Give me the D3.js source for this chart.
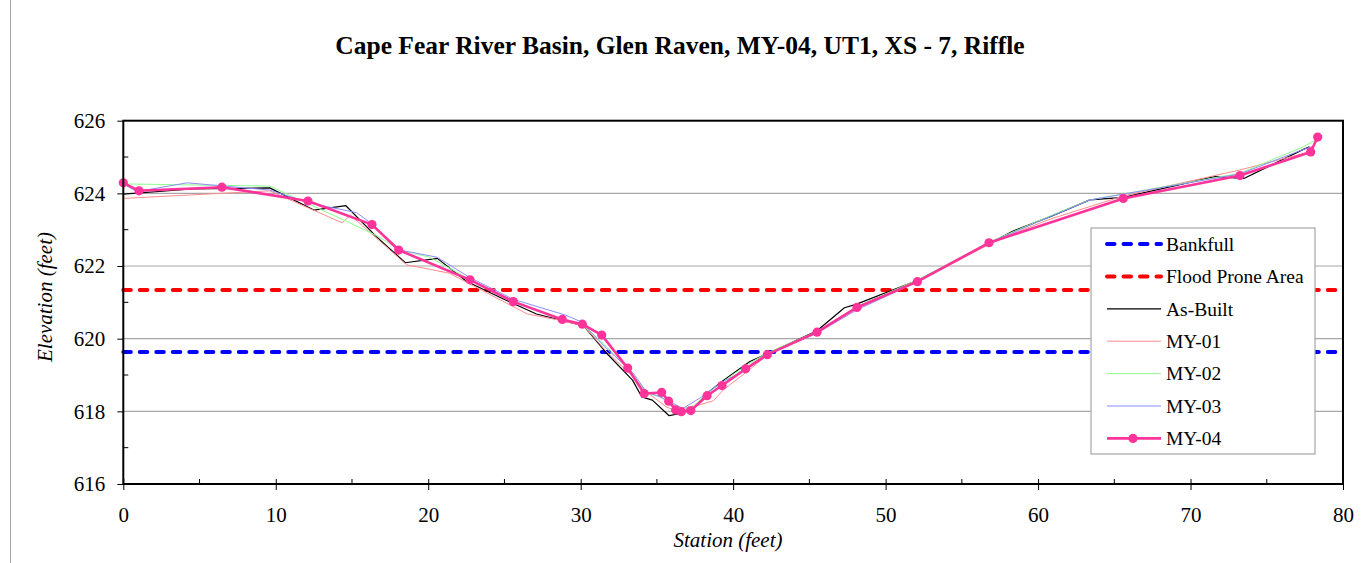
<!DOCTYPE html>
<html>
<head>
<meta charset="utf-8">
<script src="https://cdn.jsdelivr.net/npm/d3@7"></script>
<style>
  html, body { margin: 0; padding: 0; background: #fff; }
  svg { display: block; font-family: "Liberation Serif", "Times New Roman", serif; }
</style>
</head>
<body>
<svg id="chart" width="1365" height="563"></svg>
<script>
// Cross-section survey, XS-7 riffle: [station (ft), elevation (ft)]
const asBuilt = [[0,623.98],[4.5,624.12],[9.6,624.15],[12.5,623.54],[14.6,623.66],[16.6,622.81],[18.5,622.09],[20.6,622.21],[22.5,621.58],[25.5,620.98],[27.1,620.68],[30.2,620.35],[31.7,619.6],[33.4,618.86],[34.0,618.4],[34.7,618.31],[35.8,617.88],[36.3,617.92],[37.3,618.05],[38.5,618.57],[39.4,618.86],[41.1,619.37],[42.2,619.58],[45.5,620.22],[47.3,620.85],[48.1,620.95],[52.1,621.61],[58.4,622.97],[60.8,623.36],[63.4,623.82],[65.6,623.89],[71.6,624.46],[73.5,624.41],[77.4,625.21],[77.8,625.28]];
const my01 = [[0,623.86],[9.6,624.07],[14.35,623.19],[14.9,623.4],[18.6,622.03],[20.1,621.91],[21.4,621.8],[23.8,621.27],[26.5,620.68],[28.6,620.51],[30.2,620.35],[31.7,619.64],[33.45,618.95],[34.3,618.54],[35.6,618.13],[36.3,617.99],[37.4,618.13],[38.7,618.29],[39.35,618.59],[40.9,619.09],[42.4,619.6],[45.5,620.16],[48.1,620.84],[52.1,621.57],[56.8,622.6],[58.4,622.9],[60.8,623.29],[65.6,623.93],[73.2,624.64],[77.6,625.12],[77.8,625.21]];
const my02 = [[0,624.26],[9.6,624.2],[14.9,623.18],[16.6,622.84],[18.15,622.44],[20.1,622.24],[22.7,621.64],[25.6,621.04],[28.8,620.52],[30.0,620.42],[31.7,619.78],[33.45,619.0],[34.3,618.5],[35.2,618.4],[36.5,618.08],[37.4,618.15],[38.7,618.63],[40.9,619.28],[42.2,619.6],[45.5,620.2],[48.1,620.88],[52.3,621.66],[56.8,622.66],[60.8,623.38],[63.4,623.82],[73.2,624.55],[77.4,625.28],[78.3,625.49]];
const my03 = [[0,624.26],[0.9,624.05],[4.2,624.29],[9.6,624.09],[12.25,623.73],[15.3,623.47],[16.4,623.13],[18.15,622.44],[20.6,622.24],[22.7,621.69],[25.6,621.08],[29.0,620.65],[30.0,620.47],[31.7,619.73],[33.45,619.05],[34.3,618.54],[35.2,618.4],[36.7,618.08],[37.8,618.36],[39.35,618.82],[40.9,619.16],[42.2,619.55],[45.5,620.15],[48.1,620.79],[52.1,621.57],[56.8,622.64],[60.8,623.36],[63.4,623.82],[73.2,624.53],[77.6,625.24],[78.1,625.3]];
const my04 = [[0,624.29],[1.03,624.07],[6.47,624.17],[12.11,623.79],[16.31,623.14],[18.06,622.44],[22.74,621.62],[25.58,621.02],[28.79,620.53],[30.11,620.4],[31.38,620.1],[33.08,619.19],[34.17,618.49],[35.31,618.52],[35.77,618.28],[36.23,618.04],[36.6,617.99],[37.22,618.02],[38.29,618.43],[39.27,618.71],[40.82,619.17],[42.24,619.56],[45.5,620.18],[48.12,620.86],[52.08,621.57],[56.78,622.64],[65.59,623.86],[73.24,624.49],[77.88,625.14],[78.34,625.55]];

// Reference water-surface elevations (ft)
const bankfull = 619.63;
const floodProne = 621.34;

// Axis ticks
const xTicks = [0,10,20,30,40,50,60,70,80];
const xMinorTicks = [5,15,25,35,45,55,65,75];
const yTicks = [616,618,620,622,624,626];
const yMinorTicks = [617,619,621,623,625];

const titleText = "Cape Fear River Basin, Glen Raven, MY-04, UT1, XS - 7, Riffle";

const series = [
  { name: "As-Built", data: asBuilt, color: "#000000", width: 1.2 },
  { name: "MY-01", data: my01, color: "#FF8C8C", width: 1 },
  { name: "MY-02", data: my02, color: "#8CFF8C", width: 1 },
  { name: "MY-03", data: my03, color: "#8C8CFF", width: 1 },
  { name: "MY-04", data: my04, color: "#FF3399", width: 2.6, marker: true }
];
const refLines = [
  { name: "Bankfull", value: bankfull, color: "#0000FF" },
  { name: "Flood Prone Area", value: floodProne, color: "#FF0000" }
];

const svg = d3.select("#chart");
const plot = { left: 123.3, top: 120.7, right: 1343, bottom: 484 };

const x = d3.scaleLinear().domain([0, 80]).range([plot.left, plot.right]);
const y = d3.scaleLinear().domain([616, 626]).range([plot.bottom, plot.top]);

// Outer chart frame (left edge)
svg.append("line").attr("x1", 10.5).attr("x2", 10.5).attr("y1", 0).attr("y2", 563)
  .attr("stroke", "#a6a6a6").attr("stroke-width", 1);

// Title
svg.append("text").attr("x", 680).attr("y", 54).attr("text-anchor", "middle")
  .attr("font-size", 25.5).attr("font-weight", "bold").text(titleText);

// Horizontal gridlines
svg.append("g").selectAll("line").data(yTicks.filter(d => d > 616 && d < 626)).join("line")
  .attr("x1", plot.left).attr("x2", plot.right)
  .attr("y1", d => y(d)).attr("y2", d => y(d))
  .attr("stroke", "#a6a6a6").attr("stroke-width", 1.2);

// Y axis: major ticks crossing, minor ticks inside
const yAxis = svg.append("g").attr("transform", `translate(${plot.left},0)`)
  .call(d3.axisLeft(y).tickValues(yTicks).tickSize(6).tickPadding(12).tickFormat(d3.format("d")));
yAxis.select(".domain").remove();
yAxis.selectAll("text").attr("font-size", 21).attr("font-family", "Liberation Serif").attr("fill", "#000");
yAxis.selectAll(".tick line").attr("stroke", "#000");
svg.append("g").selectAll("line").data(yMinorTicks).join("line")
  .attr("x1", plot.left).attr("x2", plot.left + 5)
  .attr("y1", d => y(d)).attr("y2", d => y(d)).attr("stroke", "#000");

// X axis
const xAxis = svg.append("g").attr("transform", `translate(0,${plot.bottom})`)
  .call(d3.axisBottom(x).tickValues(xTicks).tickSize(6).tickPadding(17).tickFormat(d3.format("d")));
xAxis.select(".domain").remove();
xAxis.selectAll("text").attr("font-size", 21).attr("font-family", "Liberation Serif").attr("fill", "#000");
xAxis.selectAll(".tick line").attr("stroke", "#000").attr("y1", -5);
svg.append("g").selectAll("line").data(xMinorTicks).join("line")
  .attr("x1", d => x(d)).attr("x2", d => x(d))
  .attr("y1", plot.bottom).attr("y2", plot.bottom - 5).attr("stroke", "#000");

// Axis titles
svg.append("text").attr("x", 728).attr("y", 547).attr("text-anchor", "middle")
  .attr("font-size", 21).attr("font-style", "italic").text("Station (feet)");
svg.append("text").attr("transform", "translate(52,297) rotate(-90)").attr("text-anchor", "middle")
  .attr("font-size", 21).attr("font-style", "italic").text("Elevation (feet)");

// Bankfull and flood-prone reference lines
svg.append("g").selectAll("line").data(refLines).join("line")
  .attr("x1", x(0)).attr("x2", x(80))
  .attr("y1", d => y(d.value)).attr("y2", d => y(d.value))
  .attr("stroke", d => d.color).attr("stroke-width", 4)
  .attr("stroke-dasharray", "7.5,9").attr("stroke-linecap", "round");

// Survey lines
const line = d3.line().x(d => x(d[0])).y(d => y(d[1]));
const gSeries = svg.append("g");
series.forEach(s => {
  gSeries.append("path").datum(s.data).attr("d", line)
    .attr("fill", "none").attr("stroke", s.color).attr("stroke-width", s.width)
    .attr("stroke-linejoin", "round");
  if (s.marker) {
    gSeries.append("g").selectAll("circle").data(s.data).join("circle")
      .attr("cx", d => x(d[0])).attr("cy", d => y(d[1])).attr("r", 4.6)
      .attr("fill", s.color);
  }
});

// Plot frame
svg.append("rect").attr("x", plot.left).attr("y", plot.top)
  .attr("width", plot.right - plot.left).attr("height", plot.bottom - plot.top)
  .attr("fill", "none").attr("stroke", "#000").attr("stroke-width", 2);

// Legend
const legend = svg.append("g").attr("transform", "translate(1091,228)");
legend.append("rect").attr("x", 0).attr("y", 0).attr("width", 224).attr("height", 226)
  .attr("fill", "#fff").attr("stroke", "#a6a6a6").attr("stroke-width", 1.2);
const legendItems = [
  ...refLines.map(r => ({ name: r.name, color: r.color, width: 4, dash: true })),
  ...series.map(s => ({ name: s.name, color: s.color, width: s.width, marker: s.marker }))
];
const li = legend.selectAll("g.item").data(legendItems).join("g")
  .attr("class", "item").attr("transform", (d, i) => `translate(0,${16 + i * 32.4})`);
li.append("line").attr("x1", 16).attr("x2", 70).attr("y1", 0).attr("y2", 0)
  .attr("stroke", d => d.color).attr("stroke-width", d => d.width)
  .attr("stroke-dasharray", d => d.dash ? "7.5,9" : null)
  .attr("stroke-linecap", d => d.dash ? "round" : "butt");
li.filter(d => d.marker).append("circle").attr("cx", 42).attr("cy", 0).attr("r", 4.6).attr("fill", d => d.color);
li.append("text").attr("x", 75).attr("y", 0).attr("dy", "0.35em")
  .attr("font-size", 19.5).text(d => d.name);
</script>
</body>
</html>
